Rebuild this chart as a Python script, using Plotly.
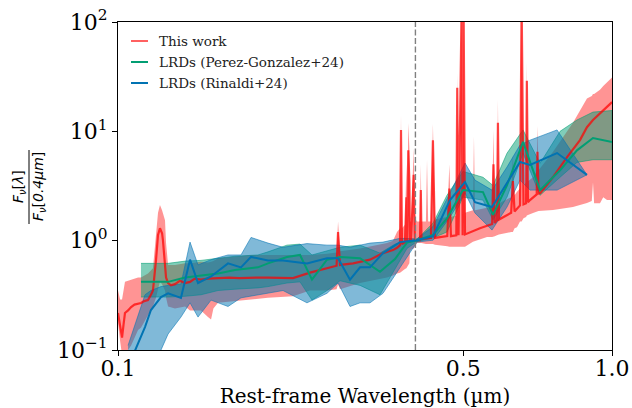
import plotly.graph_objects as go

# ---------------- data ----------------
# This work: median spectrum, normalised at 0.4 um
red_lam = [0.1000, 0.1010, 0.1019, 0.1026, 0.1033, 0.1048, 0.1063, 0.1080, 0.1098, 0.1113,
           0.1130, 0.1150, 0.1166, 0.1177, 0.1194, 0.1205, 0.1216, 0.1228, 0.1233, 0.1245,
           0.1251, 0.1263, 0.1280, 0.1304, 0.1334, 0.1367, 0.1399, 0.1430, 0.1472, 0.1521,
           0.1594, 0.1680, 0.1760, 0.1859, 0.1938, 0.2012, 0.2128, 0.2261, 0.2447, 0.2649,
           0.2770, 0.2789, 0.2815, 0.2991, 0.3237, 0.3439, 0.3603, 0.3671, 0.3723, 0.3740,
           0.3757, 0.3810, 0.3835, 0.3850, 0.3869, 0.3889, 0.3900, 0.3920, 0.3968, 0.3990,
           0.4029, 0.4086, 0.4102, 0.4115, 0.4300, 0.4340, 0.4380, 0.4486, 0.4640, 0.4686,
           0.4720, 0.4840, 0.4861, 0.4890, 0.4959, 0.4985, 0.5007, 0.5040, 0.5404, 0.5720,
           0.5755, 0.5790, 0.5851, 0.5876, 0.5905, 0.6250, 0.6300, 0.6350, 0.6513, 0.6563,
           0.6620, 0.6700, 0.6724, 0.6760, 0.6823, 0.7040, 0.7065, 0.7100, 0.7160, 0.7597,
           0.8110, 0.8614, 0.8898, 0.9152, 0.9456, 0.9770, 1.0000]
red_med = [0.218, 0.16, 0.13, 0.17, 0.218, 0.23, 0.247, 0.26, 0.265, 0.269,
           0.28, 0.286, 0.32, 0.35, 0.67, 1.13, 1.30, 1.17, 1.01, 0.64,
           0.46, 0.41, 0.39, 0.40, 0.43, 0.41, 0.42, 0.45, 0.44, 0.45,
           0.455, 0.46, 0.455, 0.46, 0.46, 0.46, 0.455, 0.455, 0.51, 0.56,
           0.59, 1.20, 0.60, 0.62, 0.67, 0.77, 0.82, 0.86, 0.91, 10.3,
           0.93, 0.97, 2.5, 0.97, 6.7, 3.5, 0.97, 1.01, 4.0, 1.01,
           1.01, 1.01, 2.9, 1.04, 1.06, 8.3, 1.06, 1.08, 1.10, 3.0,
           1.10, 1.12, 25.0, 1.12, 120.0, 1.12, 150.0, 1.14, 1.30, 1.42,
           5.0, 1.45, 1.54, 12.0, 1.56, 1.80, 3.5, 1.85, 2.10, 150.0,
           2.15, 2.20, 29.0, 2.25, 2.35, 2.65, 6.5, 2.70, 2.73, 3.82,
           5.82, 8.32, 10.9, 12.7, 14.7, 16.7, 18.5]

# This work: spread
red_band_lam = [0.1000, 0.1010, 0.1019, 0.1033, 0.1048, 0.1063, 0.1098, 0.1113, 0.1150, 0.1177,
                0.1194, 0.1205, 0.1216, 0.1228, 0.1245, 0.1251, 0.1263, 0.1304, 0.1367, 0.1399,
                0.1472, 0.1521, 0.1543, 0.1560, 0.1594, 0.1725, 0.1859, 0.2012, 0.2261, 0.2447,
                0.2649, 0.2770, 0.2789, 0.2815, 0.3090, 0.3504, 0.3603, 0.3671, 0.3723, 0.3740,
                0.3757, 0.3810, 0.3835, 0.3850, 0.3869, 0.3889, 0.3900, 0.3920, 0.3968, 0.3990,
                0.4029, 0.4086, 0.4102, 0.4115, 0.4200, 0.4222, 0.4245, 0.4300, 0.4340, 0.4380,
                0.4486, 0.4640, 0.4686, 0.4720, 0.4840, 0.4861, 0.4890, 0.4959, 0.4985, 0.5007,
                0.5040, 0.5230, 0.5255, 0.5280, 0.5585, 0.5720, 0.5755, 0.5790, 0.5850, 0.5876,
                0.5905, 0.6250, 0.6300, 0.6350, 0.6422, 0.6513, 0.6563, 0.6620, 0.6700, 0.6724,
                0.6760, 0.6920, 0.7040, 0.7065, 0.7100, 0.7597, 0.8337, 0.8898, 0.9100, 0.9152,
                0.9200, 0.9456, 0.9600, 0.9770, 1.0000]
red_lo = [0.176, 0.12, 0.09, 0.095, 0.10, 0.11, 0.152, 0.16, 0.21, 0.25,
          0.30, 0.36, 0.42, 0.40, 0.35, 0.30, 0.25, 0.24, 0.25, 0.23,
          0.23, 0.20, 0.19, 0.24, 0.27, 0.28, 0.29, 0.30, 0.31, 0.35,
          0.35, 0.36, 0.40, 0.36, 0.41, 0.46, 0.48, 0.50, 0.51, 0.51,
          0.52, 0.55, 0.56, 0.57, 0.60, 0.62, 0.80, 0.83, 0.85, 0.88,
          0.95, 0.95, 0.95, 0.95, 0.93, 0.93, 0.93, 0.93, 0.93, 0.92,
          0.90, 0.89, 0.88, 0.88, 0.87, 0.87, 0.87, 0.88, 0.88, 0.88,
          0.88, 0.98, 0.98, 0.98, 1.08, 1.08, 1.08, 1.10, 1.12, 1.12,
          1.14, 1.20, 1.20, 1.30, 1.33, 1.50, 1.50, 1.60, 1.65, 1.70,
          1.72, 1.79, 1.83, 1.85, 1.87, 1.91, 2.03, 2.21, 2.30, 3.40,
          2.20, 2.20, 2.50, 2.35, 2.35]
red_hi = [0.35, 0.29, 0.29, 0.42, 0.43, 0.44, 0.46, 0.46, 0.50, 0.56,
          1.17, 1.80, 2.12, 1.90, 1.54, 0.95, 0.60, 0.60, 0.62, 0.62,
          0.64, 0.63, 0.64, 0.65, 0.69, 0.72, 0.74, 0.74, 0.74, 0.74,
          0.76, 0.78, 1.50, 0.80, 0.85, 0.95, 1.00, 1.20, 1.30, 14.1,
          1.30, 1.40, 5.0, 1.40, 11.9, 7.0, 1.50, 1.50, 7.0, 1.60,
          1.50, 1.50, 5.0, 1.50, 1.50, 5.5, 1.50, 1.50, 11.7, 1.55,
          1.60, 1.65, 5.0, 1.65, 1.70, 34.0, 1.70, 150.0, 1.75, 150.0,
          1.80, 1.90, 9.0, 1.90, 2.00, 2.05, 10.3, 2.10, 2.15, 19.3,
          2.20, 2.50, 6.0, 2.60, 2.80, 3.00, 150.0, 3.20, 3.40, 43.0,
          3.50, 3.80, 4.30, 11.2, 4.40, 6.50, 12.0, 20.0, 21.0, 22.0,
          22.0, 24.0, 26.0, 28.0, 31.0]

# LRDs (Perez-Gonzalez+24)
pg_lam = [0.1113, 0.1263, 0.1367, 0.1472, 0.1594, 0.1725, 0.1920, 0.2012, 0.2198, 0.2336,
          0.2470, 0.2649, 0.2815, 0.3090, 0.3391, 0.3637, 0.3846, 0.4029, 0.4343, 0.4634,
          0.4993, 0.5481, 0.5743, 0.6129, 0.6605, 0.7150, 0.7849, 0.8494, 0.9152, 1.0000]
pg_med = [0.42, 0.42, 0.46, 0.48, 0.50, 0.54, 0.57, 0.62, 0.71, 0.74,
          0.44, 0.67, 0.71, 0.69, 0.52, 0.68, 0.96, 1.01, 1.13, 1.60,
          2.90, 2.78, 1.72, 3.20, 8.00, 2.90, 4.40, 6.70, 8.70, 8.00]
pg_lo = [0.305, 0.305, 0.31, 0.32, 0.35, 0.36, 0.37, 0.38, 0.41, 0.42,
         0.286, 0.35, 0.43, 0.39, 0.32, 0.55, 0.85, 0.98, 1.06, 1.20,
         2.50, 2.35, 1.55, 2.50, 6.30, 2.60, 3.80, 5.20, 5.50, 5.50]
pg_hi = [0.62, 0.62, 0.65, 0.66, 0.69, 0.72, 0.74, 0.79, 0.91, 0.93,
         0.74, 0.80, 0.87, 0.91, 0.77, 0.93, 1.00, 1.03, 1.45, 2.60,
         4.30, 3.80, 3.20, 6.30, 10.3, 5.10, 10.0, 12.7, 15.0, 15.5]

# LRDs (Rinaldi+24)
ri_lam = [0.1048, 0.1134, 0.1166, 0.1222, 0.1263, 0.1341, 0.1399, 0.1452, 0.1543, 0.1670,
          0.1774, 0.1859, 0.2012, 0.2158, 0.2413, 0.2649, 0.2789, 0.2949, 0.3090, 0.3237,
          0.3439, 0.3723, 0.4029, 0.4343, 0.4699, 0.5040, 0.5280, 0.5716, 0.6129, 0.6513,
          0.6823, 0.7740, 0.8898]
ri_med = [0.07, 0.162, 0.232, 0.305, 0.33, 0.30, 0.67, 0.41, 0.47, 0.62,
          0.57, 0.71, 0.66, 0.66, 0.62, 0.69, 0.69, 0.44, 0.57, 0.57,
          0.77, 0.97, 1.01, 1.10, 2.35, 3.44, 2.25, 2.03, 3.37, 5.24,
          4.92, 6.33, 4.00]
ri_lo = [0.035, 0.07, 0.08, 0.10, 0.14, 0.20, 0.27, 0.20, 0.286, 0.25,
         0.30, 0.31, 0.33, 0.35, 0.27, 0.33, 0.41, 0.25, 0.27, 0.27,
         0.33, 0.57, 0.97, 1.01, 1.64, 2.73, 1.79, 1.25, 2.03, 3.58,
         2.90, 2.90, 4.00]
ri_hi = [0.11, 0.32, 0.35, 0.38, 0.39, 0.40, 0.97, 0.60, 0.67, 0.74,
         0.74, 1.07, 0.95, 0.87, 0.94, 0.91, 0.91, 0.87, 0.91, 0.95,
         0.97, 1.05, 1.04, 1.35, 2.73, 5.13, 3.58, 2.90, 4.71, 7.50,
         8.30, 10.3, 4.00]

norm_lam = 0.4          # normalisation wavelength (dashed line)
y_span = [0.1, 100.0]

x_tickvals = [0.1, 0.5, 1.0]
x_ticktext = ["0.1", "0.5", "1.0"]
y_tickvals = [0.1, 1, 10, 100]
y_ticktext = ["10<sup>\u22121</sup>", "10<sup>0</sup>", "10<sup>1</sup>", "10<sup>2</sup>"]

legend_labels = ["This work", "LRDs (Perez-Gonzalez+24)", "LRDs (Rinaldi+24)"]

# ---------------- styling ----------------
RED_LINE = "rgba(255,0,0,0.72)"
RED_FILL = "rgba(255,0,0,0.42)"
GREEN = "#029e73"
GREEN_FILL = "rgba(2,158,115,0.5)"
BLUE = "#0173b2"
BLUE_FILL = "rgba(1,115,178,0.5)"

fig = go.Figure()


def band(lam, lo, hi, fill, edge, width):
    fig.add_trace(go.Scatter(
        x=list(lam) + list(lam)[::-1],
        y=list(hi) + list(lo)[::-1],
        mode="lines", fill="toself", fillcolor=fill,
        line=dict(color=edge, width=width),
        hoverinfo="skip", showlegend=False))


band(red_band_lam, red_lo, red_hi, RED_FILL, "rgba(255,0,0,0)", 0)
band(pg_lam, pg_lo, pg_hi, GREEN_FILL, "rgba(2,158,115,0.55)", 1)
band(ri_lam, ri_lo, ri_hi, BLUE_FILL, "rgba(1,115,178,0.55)", 1)

fig.add_trace(go.Scatter(x=red_lam, y=red_med, mode="lines",
                         line=dict(color=RED_LINE, width=2.2), showlegend=False))
fig.add_trace(go.Scatter(x=pg_lam, y=pg_med, mode="lines",
                         line=dict(color=GREEN, width=2), showlegend=False))
fig.add_trace(go.Scatter(x=ri_lam, y=ri_med, mode="lines",
                         line=dict(color=BLUE, width=2), showlegend=False))

fig.add_trace(go.Scatter(x=[norm_lam, norm_lam], y=y_span, mode="lines",
                         line=dict(color="#808080", width=1.4, dash="6px,2.5px"),
                         showlegend=False))

# ---------------- layout ----------------
L, R, T, B = 118, 20, 22, 58
W, H = 632, 408
PW, PH = W - L - R, H - T - B


def px(xp):
    return (xp - L) / PW


def py(yp):
    return (H - B - yp) / PH


serif = "DejaVu Serif"

fig.update_layout(
    width=W, height=H,
    margin=dict(l=L, r=R, t=T, b=B, pad=0),
    paper_bgcolor="white", plot_bgcolor="white",
    font=dict(family=serif, color="black"),
    showlegend=False,
    xaxis=dict(type="log", range=[-1, 0], tickvals=x_tickvals, ticktext=x_ticktext,
               ticks="outside", ticklen=5, tickwidth=1, tickcolor="black",
               ticklabelstandoff=-6,
               showline=True, linecolor="black", linewidth=1, mirror=True,
               showgrid=False, zeroline=False,
               tickfont=dict(family=serif, size=22, color="black"),
               title=dict(text="Rest-frame Wavelength (\u00b5m)",
                          font=dict(family=serif, size=20, color="black"),
                          standoff=12),
               automargin=False),
    yaxis=dict(type="log", range=[-1, 2], tickvals=y_tickvals, ticktext=y_ticktext,
               ticks="outside", ticklen=5, tickwidth=1, tickcolor="black",
               showline=True, linecolor="black", linewidth=1, mirror=True,
               showgrid=False, zeroline=False,
               tickfont=dict(family=serif, size=22, color="black"),
               automargin=False),
)

annotations = []
shapes = []

# y-axis label as a rotated fraction
frac_font = dict(family="DejaVu Sans", size=14, color="black")
annotations.append(dict(text="<i>F</i><sub><i>\u03bd</i></sub>[<i>\u03bb</i>]",
                        xref="paper", yref="paper", x=px(19), y=py(187),
                        textangle=-90, showarrow=False, font=frac_font,
                        xanchor="center", yanchor="middle"))
annotations.append(dict(text="<i>F</i><sub><i>\u03bd</i></sub>[<i>0.4\u03bcm</i>]",
                        xref="paper", yref="paper", x=px(39), y=py(187),
                        textangle=-90, showarrow=False, font=frac_font,
                        xanchor="center", yanchor="middle"))
shapes.append(dict(type="line", xref="paper", yref="paper",
                   x0=px(29), x1=px(29), y0=py(150), y1=py(224),
                   line=dict(color="black", width=1)))

# custom legend
leg_colors = ["rgba(255,0,0,0.62)", GREEN, BLUE]
leg_y = [41, 62, 83]
for lab, col, yy in zip(legend_labels, leg_colors, leg_y):
    shapes.append(dict(type="line", xref="paper", yref="paper",
                       x0=px(131), x1=px(148), y0=py(yy), y1=py(yy),
                       line=dict(color=col, width=2)))
    annotations.append(dict(text=lab, xref="paper", yref="paper",
                            x=px(157), y=py(yy), xanchor="left", yanchor="middle",
                            showarrow=False,
                            font=dict(family=serif, size=13.5, color="#222222")))

fig.update_layout(annotations=annotations, shapes=shapes)

fig.write_html("out.html")
